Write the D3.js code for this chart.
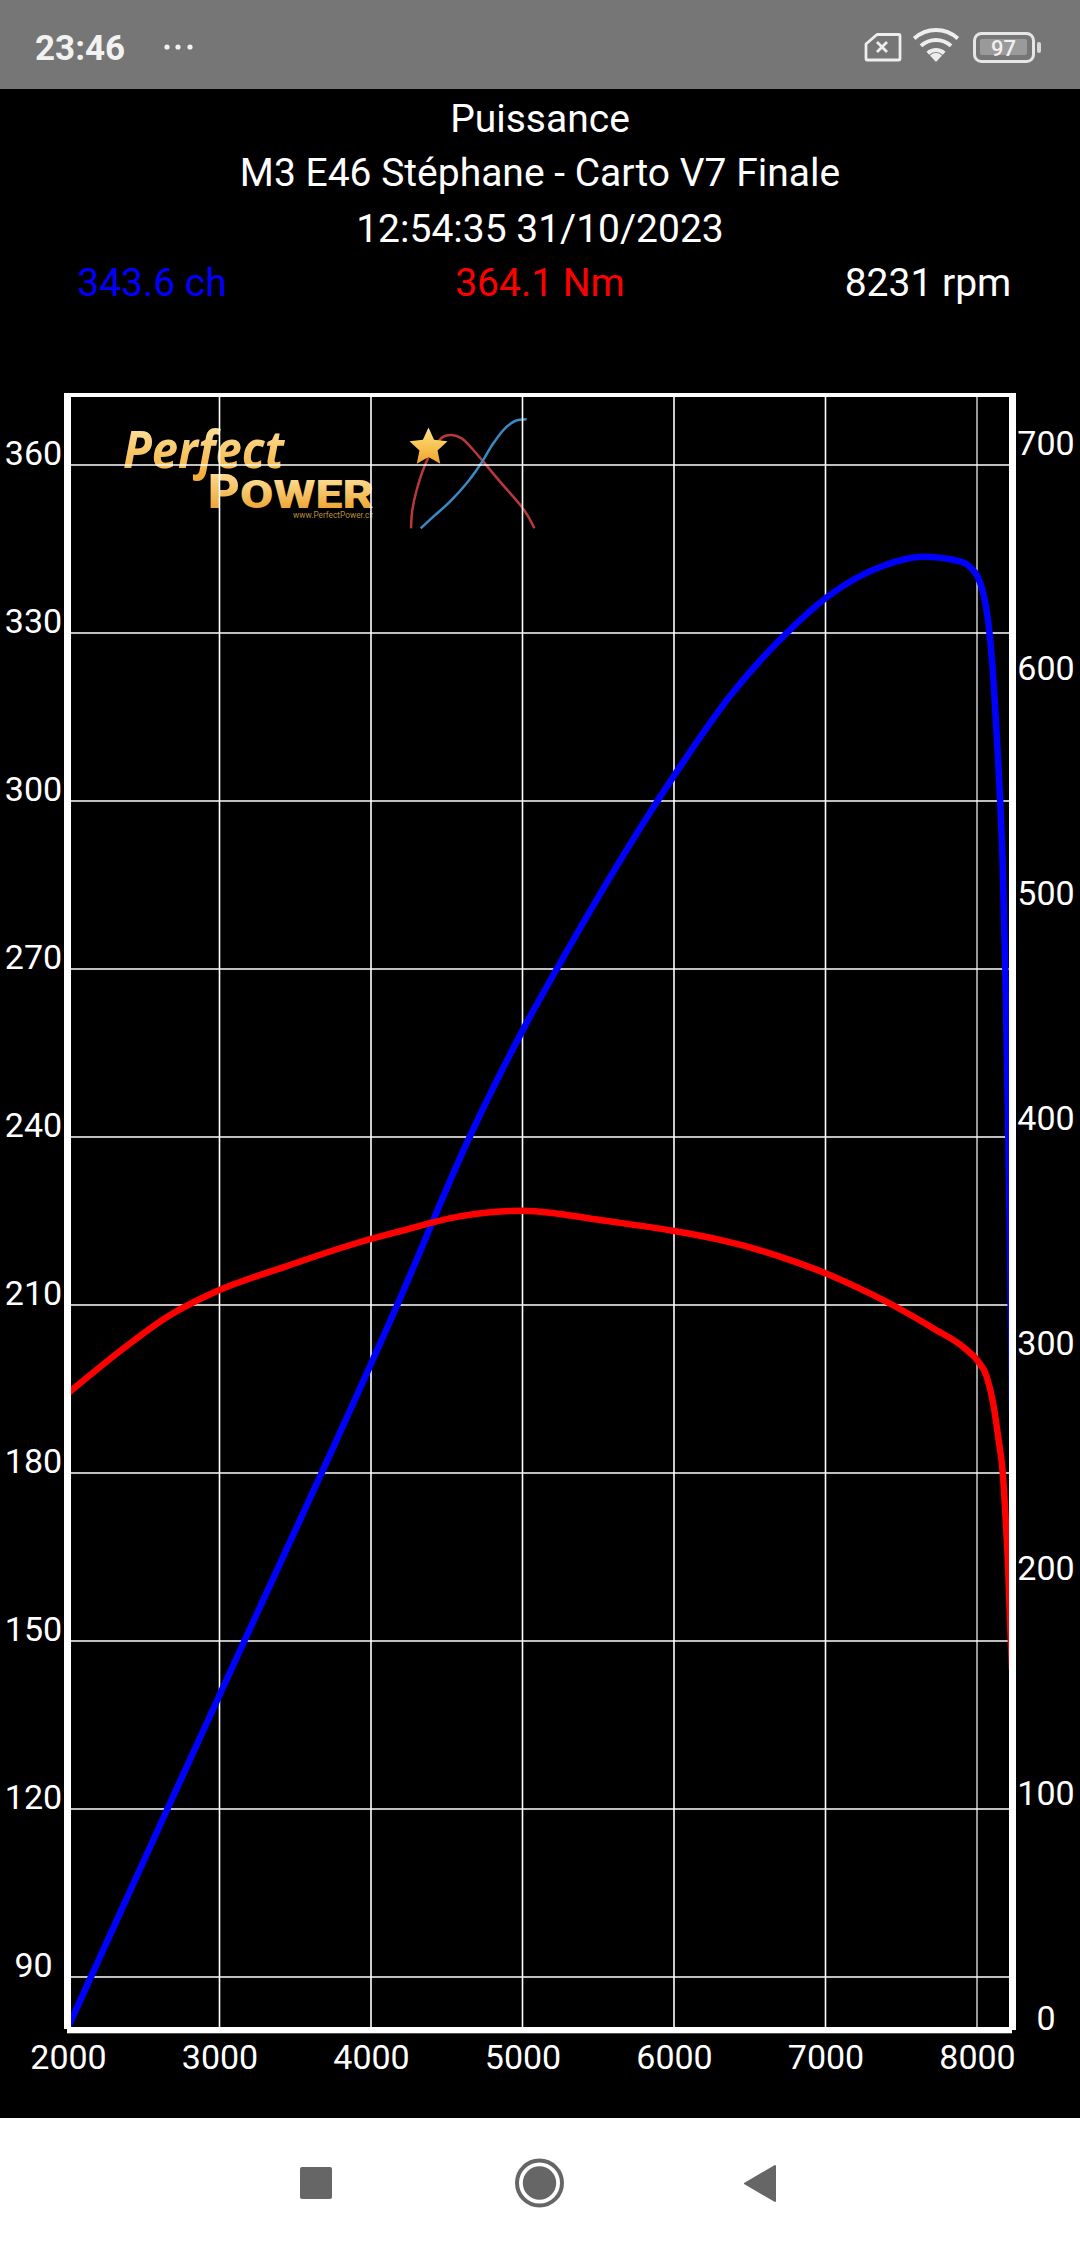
<!DOCTYPE html>
<html><head><meta charset="utf-8">
<script src="https://cdn.jsdelivr.net/npm/d3@7/dist/d3.min.js"></script>
<style>html,body{margin:0;padding:0;background:#000;overflow:hidden}svg{display:block}text{font-family:Roboto,sans-serif}</style>
</head><body><div id="c"></div>
<script>
// ---- data ----
const titleLines = ["Puissance","M3 E46 Stéphane - Carto V7 Finale","12:54:35 31/10/2023"];
const readouts = ["343.6 ch","364.1 Nm","8231 rpm"];
const rpmTicks = [2000,3000,4000,5000,6000,7000,8000];
const powerTicks = [90,120,150,180,210,240,270,300,330,360];
const torqueTicks = [0,100,200,300,400,500,600,700];
const powerRpm = [2000,2656,3164,3674,4181,4642,5000,5226,5750,6000,6392,6744,7000,7382,7644,7888,7965,8005,8042,8075,8097,8119,8141,8152,8170,8186,8205,8218,8231];
const powerCh = [81,120,150,180,210.5,239.5,259,270,294,304.5,319.5,330,336.2,342,343.6,342.8,341.5,340,337.1,331.8,325.8,317,306.5,300.5,288,271,243,219,191];
const torqueRpm = [2000,2387,2656,2970,3445,3918,4191,4577,4786,5000,5230,5491,5992,6274,6535,6796,7000,7188,7449,7710,7919,8000,8064,8108,8141,8170,8186,8205,8218,8231];
const torqueNm = [283,304,317,328,339.5,350,355,361.5,363.4,364.1,362.8,360.2,355.2,351.6,347.2,341.5,336.3,330.7,322,311.9,303,297.8,290.4,278,263,247.6,231,206,182,160];
// logo sketch, in logo units
const logoRedX=[933,937,950,975,1000,1030,1055,1085,1120,1150,1200,1265,1285,1303];
const logoRedY=[385,330,270,195,145,110,105,115,150,185,245,320,350,385];
const logoBlueX=[962,1000,1050,1100,1140,1180,1215,1245,1280];
const logoBlueY=[385,350,305,250,195,130,85,63,58];

const W=1080,H=2248;
const svg=d3.select("#c").append("svg").attr("width",W).attr("height",H).attr("viewBox",`0 0 ${W} ${H}`);
const defs=svg.append("defs");
function grad(id,a,b){const g=defs.append("linearGradient").attr("id",id).attr("x1",0).attr("y1",0).attr("x2",0).attr("y2",1);
 g.append("stop").attr("offset",0).attr("stop-color",a);g.append("stop").attr("offset",1).attr("stop-color",b);}
grad("g1","#ffeeb8","#f2a82a");grad("g2","#ffe9a8","#ea961a");grad("g3","#ffe680","#f0a42a");
defs.append("clipPath").attr("id","logoClip").append("rect").attr("x",100).attr("y",400).attr("width",273).attr("height",130);

svg.append("rect").attr("width",W).attr("height",H).attr("fill","#000");

// status bar
const st=svg.append("g");
st.append("rect").attr("width",W).attr("height",89).attr("fill","#767676");
st.append("text").attr("x",35).attr("y",60).attr("font-size",35).attr("font-weight",700).attr("fill","#f2f2f2").text("23:46");
st.selectAll("circle.d").data([167,178,190]).join("circle").attr("cx",d=>d).attr("cy",47).attr("r",2.6).attr("fill","#f2f2f2");
st.append("path").attr("d","M877 34.5 L899 34.5 Q900 34.5 900 36 L900 59 Q900 60 899 60 L867 60 Q866 60 866 59 L866 44 Z").attr("fill","none").attr("stroke","#eee").attr("stroke-width",2.8).attr("stroke-linejoin","round");
st.append("path").attr("d","M877 42 L887 52 M887 42 L877 52").attr("stroke","#eee").attr("stroke-width",2.8);
const wifi=d3.arc().startAngle(-0.75).endAngle(0.75);
[[30,34],[20,24],[10,14]].forEach(([a,b])=>st.append("path").attr("transform","translate(936,62)").attr("d",wifi({innerRadius:a,outerRadius:b})).attr("fill","#eee"));
st.append("path").attr("d","M936 62 L930 55.5 A8 8 0 0 1 942 55.5 Z").attr("fill","#eee");
st.append("rect").attr("x",974.5).attr("y",33.5).attr("width",59).attr("height",28).attr("rx",7).attr("fill","none").attr("stroke","#e6e6e6").attr("stroke-width",3);
st.append("rect").attr("x",980).attr("y",39).attr("width",47).attr("height",16).attr("rx",2).attr("fill","#9a9a9a");
st.append("rect").attr("x",1037).attr("y",42).attr("width",4).attr("height",11).attr("rx",2).attr("fill","#d8d8d8");
st.append("text").attr("x",1003.5).attr("y",56).attr("text-anchor","middle").attr("font-size",22).attr("font-weight",500).attr("fill","#f0f0f0").text("97");

// nav bar
const nav=svg.append("g");
nav.append("rect").attr("y",2118).attr("width",W).attr("height",130).attr("fill","#fff");
nav.append("rect").attr("x",300).attr("y",2167).attr("width",32).attr("height",32).attr("rx",2).attr("fill","#666");
nav.append("circle").attr("cx",539.5).attr("cy",2183).attr("r",22.5).attr("fill","none").attr("stroke","#666").attr("stroke-width",4);
nav.append("circle").attr("cx",539.5).attr("cy",2183).attr("r",16.7).attr("fill","#666");
nav.append("path").attr("d","M775 2166 L775 2201 L745 2183.5 Z").attr("fill","#666").attr("stroke","#666").attr("stroke-width",2).attr("stroke-linejoin","round");

// header
svg.selectAll("text.title").data(titleLines).join("text").attr("class","title")
 .attr("x",540).attr("y",(d,i)=>[131.5,186,241.5][i]).attr("text-anchor","middle").attr("font-size",39).attr("fill","#fff").text(d=>d);
svg.selectAll("text.read").data(readouts).join("text").attr("class","read")
 .attr("x",(d,i)=>[152,540,928][i]).attr("y",296).attr("text-anchor","middle").attr("font-size",39)
 .attr("fill",(d,i)=>["#0000ff","#ff0000","#fff"][i]).text(d=>d);

// scales
const x=d3.scaleLinear().domain([2000,8231]).range([68,1012]);
const yP=d3.scaleLinear().domain([90,360]).range([1977,465]);
const yT=d3.scaleLinear().domain([0,700]).range([2030,455]);

// logo
const logo=svg.append("g");
const lg=logo.append("g").attr("clip-path","url(#logoClip)");
lg.append("text").attr("x",123).attr("y",468).attr("font-size",52).attr("font-style","italic").attr("font-weight",700)
 .attr("textLength",161).attr("lengthAdjust","spacingAndGlyphs").style("font-family","'Open Sans',sans-serif").attr("fill","url(#g1)").text("Perfect");
lg.append("text").attr("x",208).attr("y",507.5).attr("font-size",49).attr("font-weight",900).attr("fill","url(#g2)").text("P");
lg.append("text").attr("x",240).attr("y",507.5).attr("font-size",39).attr("font-weight",900)
 .attr("textLength",134).attr("lengthAdjust","spacingAndGlyphs").attr("fill","url(#g2)").text("OWER");
lg.append("text").attr("x",293).attr("y",518).attr("font-size",9.5).attr("textLength",81).attr("lengthAdjust","spacingAndGlyphs").attr("fill","#b48d3c").text("www.PerfectPower.ch");
const lx=d3.scaleLinear().domain([0,3]).range([100,101]), ly=d3.scaleLinear().domain([0,3]).range([400,401]);
const logoLine=d3.line().x(d=>lx(d[0])).y(d=>ly(d[1])).curve(d3.curveCatmullRom);
logo.append("path").attr("d",logoLine(d3.zip(logoRedX,logoRedY))).attr("fill","none").attr("stroke","#b8383c").attr("stroke-width",2.5);
logo.append("path").attr("d",logoLine(d3.zip(logoBlueX,logoBlueY))).attr("fill","none").attr("stroke","#3a88c4").attr("stroke-width",2.5);
const starPts=d3.range(10).map(i=>{const r=i%2?9.5:20,a=i*Math.PI/5;return [428.5+r*Math.sin(a),447.5-r*Math.cos(a)];});
logo.append("path").attr("d",d3.line()(starPts)+"Z").attr("fill","url(#g3)");

// axes & grid
const bottom=d3.axisBottom(x).tickValues(rpmTicks).tickSize(0).tickPadding(0).tickFormat(d3.format("d"));
const gx=svg.append("g").attr("transform","translate(0,2030)").call(bottom);
gx.select(".domain").remove();
gx.selectAll("text").attr("y",39).attr("dy",0).attr("font-size",34).attr("fill","#fff").attr("text-anchor","middle").style("font-family","Roboto,sans-serif");

const left=d3.axisLeft(yP).tickValues(powerTicks).tickSize(0).tickFormat(d3.format("d"));
const gl=svg.append("g").attr("transform","translate(68,0)").call(left);
gl.select(".domain").remove();
gl.selectAll("text").attr("x",-34.5).attr("dy",0).attr("y",-1).attr("font-size",34).attr("fill","#fff").attr("text-anchor","middle").style("font-family","Roboto,sans-serif");

const right=d3.axisRight(yT).tickValues(torqueTicks).tickSize(0).tickFormat(d3.format("d"));
const gr=svg.append("g").attr("transform","translate(1012,0)").call(right);
gr.select(".domain").remove();
gr.selectAll("text").attr("x",34).attr("dy",0).attr("y",-1).attr("font-size",34).attr("fill","#fff").attr("text-anchor","middle").style("font-family","Roboto,sans-serif");

const grid=svg.append("g").attr("stroke","#fff");
grid.selectAll("line.v").data(rpmTicks.slice(1)).join("line").attr("x1",d=>x(d)).attr("x2",d=>x(d)).attr("y1",395).attr("y2",2028)
 .attr("stroke-width",d=>d===8000?1.2:1.6);
grid.selectAll("line.h").data(powerTicks).join("line").attr("x1",70).attr("x2",1010).attr("y1",d=>yP(d)).attr("y2",d=>yP(d)).attr("stroke-width",1.6);

// curves
const lineP=d3.line().x(d=>x(d[0])).y(d=>yP(d[1])).curve(d3.curveMonotoneX);
const lineT=d3.line().x(d=>x(d[0])).y(d=>yT(d[1])).curve(d3.curveMonotoneX);
svg.append("path").attr("d",lineP(d3.zip(powerRpm,powerCh))).attr("fill","none").attr("stroke","#0000ff").attr("stroke-width",6.5);
svg.append("path").attr("d",lineT(d3.zip(torqueRpm,torqueNm))).attr("fill","none").attr("stroke","#ff0000").attr("stroke-width",6.5);

// frame
const fr=svg.append("g").attr("fill","#fff");
fr.append("rect").attr("x",64).attr("y",393).attr("width",7).attr("height",1636);
fr.append("rect").attr("x",1009).attr("y",393).attr("width",7).attr("height",1637);
fr.append("rect").attr("x",64).attr("y",393).attr("width",952).attr("height",4);
fr.append("rect").attr("x",67).attr("y",2027).attr("width",945).attr("height",6.3);
</script></body></html>
